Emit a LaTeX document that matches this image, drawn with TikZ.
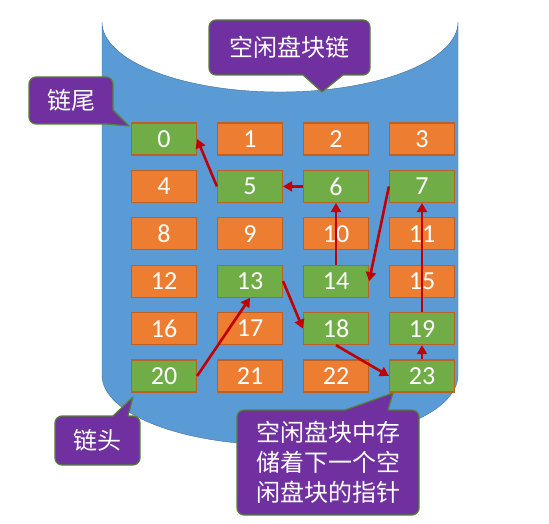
\documentclass[tikz,border=0pt]{standalone}
\usepackage{fontspec}
\setmainfont{Carlito}
\newfontfamily\cjk{Noto Sans CJK SC}
\usetikzlibrary{arrows.meta}
\definecolor{mBlue}{HTML}{5B9BD5}
\definecolor{mBlueLine}{HTML}{41719C}
\definecolor{mOrange}{HTML}{ED7D31}
\definecolor{mGreen}{HTML}{70AD47}
\definecolor{mEdge}{HTML}{B8622A}
\definecolor{mPurple}{HTML}{7030A0}
\definecolor{mPurpleLine}{HTML}{548235}
\definecolor{mRed}{HTML}{C00000}

\begin{document}
\begin{tikzpicture}[x=1pt, y=-1pt,
    blk/.style={draw=mEdge, line width=1.2pt, fill=mOrange, minimum width=65pt, minimum height=32pt,
      inner sep=0pt, text=white, font=\fontsize{26}{26}\selectfont},
    ptr/.style={mRed, line width=2.6pt, -{Triangle[length=9pt, width=10pt]}},
    bubble/.style={rectangle, draw=mPurpleLine, line width=1.2pt, fill=mPurple, rounded corners=7pt,
      text=white, font=\cjk\fontsize{24}{30}\selectfont, align=center, inner sep=0pt},
    beak/.style={mPurpleLine, line width=1.2pt, line join=round}]
  \useasboundingbox (0,0) rectangle (549,524);
  \draw[mBlueLine, fill=mBlue] (102,22) -- (102,375)
    .. controls (102,413.7) and (181.7,445) .. (280,445)
    .. controls (378.3,445) and (458,413.7) .. (458,375) -- (458,22)
    .. controls (458,60.7) and (378.3,92) .. (280,92)
    .. controls (181.7,92) and (102,60.7) .. (102,22) -- cycle;
  \foreach \k in {1,2,3,4,8,9,10,11,12,15,16,17,21,22}
    \node[blk] (b\k) at ({164+86*mod(\k,4)},{139+47.4*div(\k,4)}) {\k};
  \foreach \k in {0,5,6,7,13,14,18,19,20,23}
    \node[blk, fill=mGreen] (b\k) at ({164+86*mod(\k,4)},{139+47.4*div(\k,4)}) {\k};
  \draw[ptr] (b20.east) -- (b13.south);
  \draw[ptr] (b13.east) -- (b18.west);
  \draw[ptr] (b18.south) -- (b23.west);
  \draw[ptr] (b23.north) -- (b19.south);
  \draw[ptr] (b19.north) -- (b7.south);
  \draw[ptr] (b7.west) -- (b14.east);
  \draw[ptr] (b14.north) -- (b6.south);
  \draw[ptr] (b6.west) -- (b5.east);
  \draw[ptr] (b5.west) -- (b0.east);
  % callouts
  \node[bubble, minimum width=161pt, minimum height=55pt] (title) at (289.5,47.5) {空闲盘块链};
  \fill[mPurple] (303,71) -- (303,75) -- (322,92) -- (343,75) -- (343,71) -- cycle;
  \draw[beak] (303,75) -- (322,92) -- (343,75);
  \node[bubble, minimum width=84pt, minimum height=47pt] (tail) at (71,100.5) {链尾};
  \fill[mPurple] (109,110) -- (113.6,110) -- (129,126) -- (107,124.6) -- (107,120) -- (109,120) -- cycle;
  \draw[beak] (113,110) -- (129,126) -- (107,124);
  \node[bubble, minimum width=85pt, minimum height=49pt] (head) at (97.5,440.5) {链头};
  \fill[mPurple] (113,420) -- (113,416) -- (133,397) -- (128,416) -- (128,420) -- cycle;
  \draw[beak] (113,416) -- (133,397) -- (128,416);
  \node[bubble, minimum width=182pt, minimum height=105pt] (note) at (328,462.5)
    {空闲盘块中存\\储着下一个空\\闲盘块的指针};
  \fill[mPurple] (345,414) -- (345,410) -- (393,393) -- (388,410) -- (388,414) -- cycle;
  \draw[beak] (345,410) -- (393,393) -- (388,410);
\end{tikzpicture}
\end{document}
